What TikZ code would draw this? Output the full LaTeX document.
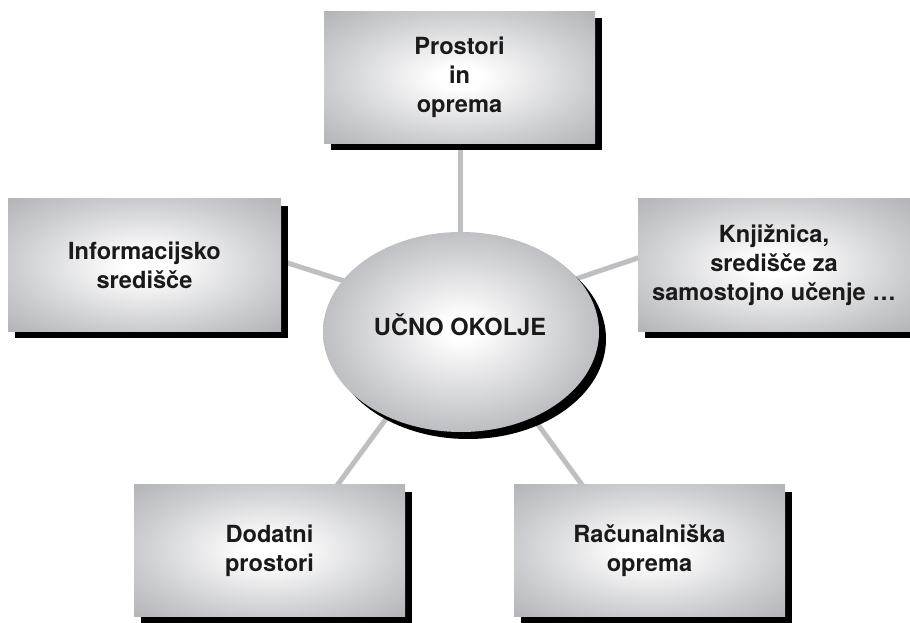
\documentclass[tikz,border=0pt]{standalone}
\usepackage{fontspec}
\setmainfont{TeX Gyre Heros}
\usetikzlibrary{shapes.geometric,shadows,backgrounds}

\definecolor{linkgray}{RGB}{190,191,195}
\definecolor{boxedge}{RGB}{202,203,206}
\definecolor{boxcorner}{RGB}{178,179,183}
\definecolor{ovaledge}{RGB}{190,191,195}
\definecolor{inkdark}{RGB}{26,26,26}

% soft white glow in the middle, grey towards the rim
\pgfdeclareradialshading{panelglow}{\pgfpoint{0bp}{0bp}}{%
  color(0bp)=(white); color(4bp)=(white); color(25bp)=(boxedge);
  color(36bp)=(boxcorner); color(50bp)=(boxcorner)}
\pgfdeclareradialshading{ovalglow}{\pgfpoint{0bp}{1bp}}{%
  color(0bp)=(white); color(3bp)=(white); color(25bp)=(ovaledge);
  color(50bp)=(ovaledge)}

\begin{document}
\begin{tikzpicture}[x=1pt,y=1pt,
  labeltext/.style={text=inkdark, align=center,
    font=\bfseries\fontsize{23.6}{29}\selectfont},
  panel/.style={labeltext, rectangle, minimum width=271pt, minimum height=132pt,
    inner sep=0pt, shading=panelglow,
    general shadow={fill=black, shadow xshift=7pt, shadow yshift=-7pt}},
  hubshape/.style={ellipse, minimum width=276pt, minimum height=200pt,
    inner sep=0pt, shading=ovalglow,
    general shadow={fill=black, shadow xshift=7pt, shadow yshift=-7pt}},
  link/.style={draw=linkgray, line width=5pt}]

\useasboundingbox (0,0) rectangle (910,622);
\clip (0,0) rectangle (910,622);

% outer panels
\node[panel] (prostori) at (459.5,544.5) {Prostori\\in\\oprema};
\node[panel, minimum width=273pt] (info) at (144.5,357) {Informacijsko\\središče};
\node[panel, minimum width=272pt] (knjiz) at (774,357) {Knjižnica,\\središče za\\samostojno učenje …};
\node[panel] (dodatni) at (269.5,71.5) {Dodatni\\prostori};
\node[panel] (racun) at (649.5,71.5) {Računalniška\\oprema};

% central oval
\node[hubshape] (ucno) at (461,290) {};
\node[labeltext] (ucnotext) at (460,297) {UČNO OKOLJE};

% spokes meet under the oval and run into the panels
\coordinate (hub) at (460,304);
\coordinate (toTop) at (460,522);
\coordinate (toInfo) at (200,387);
\coordinate (toKnjiz) at (700,385);
\coordinate (toDodatni) at (300,86);
\coordinate (toRacun) at (610,99);

\begin{scope}[on background layer]
  \draw[link] (hub) -- (toTop);
  \draw[link] (hub) -- (toInfo);
  \draw[link] (hub) -- (toKnjiz);
  \draw[link] (hub) -- (toDodatni);
  \draw[link] (hub) -- (toRacun);
\end{scope}
\end{tikzpicture}
\end{document}
